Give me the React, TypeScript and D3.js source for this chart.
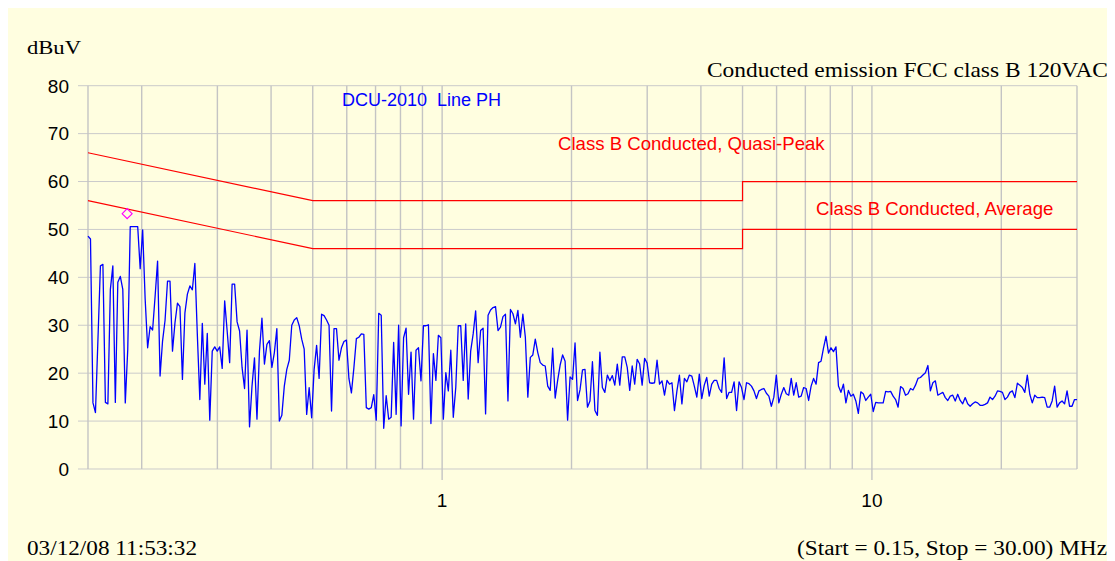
import React, { useEffect, useRef } from 'react';
import * as d3 from 'd3';

// sweep definition (MHz)
const startMHz = 0.15;
const stopMHz = 30;

const yTicks = [0, 10, 20, 30, 40, 50, 60, 70, 80];
const gridFreqs = [0.2, 0.3, 0.4, 0.5, 0.6, 0.7, 0.8, 0.9, 1, 2, 3, 4, 5, 6, 7, 8, 9, 10, 20];
const labeledFreqs = [1, 10];

// FCC class B limits
const limitFreq = [0.15, 0.5, 5, 5, 30];
const qpLimit = [66, 56, 56, 60, 60];
const avgLimit = [56, 46, 46, 50, 50];

// peak marker
const markerFreq = [0.185];
const markerLevel = [53.3];

// measured trace, dBuV, log-spaced sweep points
const emission = [
  48.6, 48.0, 13.8, 11.8, 27.0, 42.4, 42.7, 13.9, 13.6, 37.5,
  42.4, 13.9, 39.0, 40.2, 37.5, 13.8, 25.0, 50.6, 50.6, 50.6,
  50.6, 41.8, 49.9, 35.5, 25.3, 29.7, 29.0, 36.0, 43.4, 19.4,
  26.7, 31.0, 39.2, 39.2, 24.6, 30.5, 34.6, 33.9, 18.7, 32.6,
  36.5, 38.2, 37.4, 42.9, 28.0, 14.5, 30.4, 17.7, 28.3, 10.2,
  24.6, 25.5, 24.6, 25.5, 21.0, 35.1, 28.8, 22.2, 38.6, 38.6,
  30.7, 28.8, 21.2, 16.8, 29.0, 8.8, 17.3, 23.2, 10.4, 24.6,
  31.5, 21.9, 26.0, 26.8, 21.2, 24.3, 29.3, 10.0, 11.2, 17.3,
  20.8, 22.7, 30.0, 31.1, 31.6, 29.9, 27.1, 25.0, 11.4, 17.0,
  10.7, 20.8, 25.8, 18.9, 32.3, 32.0, 31.1, 30.0, 12.1,
  29.3, 29.3, 22.7, 25.3, 26.6, 26.9, 18.9, 15.9, 21.1, 27.2,
  27.5, 28.2, 28.1, 12.8, 12.5, 12.8, 15.5, 10.2, 32.5, 32.1,
  8.5, 15.3, 10.4, 10.8, 26.4, 11.4, 30.0, 9.0, 27.4, 29.4,
  15.6, 24.4, 10.4, 24.8, 25.3, 18.4, 29.9, 29.9, 30.1, 9.5,
  24.1, 18.5, 27.9, 27.4, 10.4, 20.1, 16.3, 24.8, 10.8, 17.0,
  29.9, 29.9, 18.5, 30.3, 14.6, 24.6, 28.2, 33.0, 22.2, 28.9,
  29.4, 11.5, 32.1, 33.2, 33.7, 33.9, 28.9, 29.6, 31.8, 32.3,
  14.2, 33.3, 32.4, 30.3, 33.1, 27.5, 32.3, 27.5, 15.0, 23.3,
  23.8, 27.1, 24.3, 22.2, 21.7, 21.5, 17.3, 16.4, 25.2, 14.8,
  18.5, 21.7, 23.8, 22.5, 10.2, 19.2, 18.7, 26.3, 14.3, 16.5,
  20.7, 20.8, 12.9, 14.2, 22.4, 12.2, 11.2, 24.4, 17.0, 16.0,
  19.6, 18.4, 19.5, 17.5, 21.9, 17.5, 23.4, 23.4, 21.2, 16.4,
  21.5, 17.7, 22.9, 21.9, 17.5, 23.1, 22.1, 18.0, 17.9, 18.0,
  22.7, 17.7, 18.4, 15.4, 18.5, 17.7, 18.0, 12.2, 16.3, 19.6,
  13.6, 18.9, 18.2, 19.6, 19.4, 17.3, 15.0, 19.8, 14.7, 17.5,
  19.1, 15.2, 17.7, 18.5, 18.5, 16.8, 16.0, 23.2, 14.7, 16.0,
  16.0, 18.2, 12.2, 18.2, 17.0, 14.5, 18.0, 17.8, 17.3, 16.3,
  14.7, 16.3, 16.6, 16.8, 15.8, 15.2, 13.1, 15.0, 19.6, 13.8,
  15.6, 17.0, 15.7, 15.4, 18.9, 15.4, 18.0, 15.0, 15.2, 17.0,
  16.8, 14.3, 17.3, 18.9, 17.7, 22.2, 22.5, 25.3, 27.7,
  24.2, 25.3, 24.5, 25.5, 17.3, 16.0, 17.7, 13.8, 16.4, 15.2,
  15.6, 14.2, 11.6, 16.1, 15.7, 14.3, 15.0, 15.6, 12.0, 13.9,
  13.8, 13.8, 13.8, 16.2, 16.1, 16.2, 15.2, 14.5, 12.9, 17.2,
  16.8, 15.4, 15.7, 16.8, 16.5, 17.5, 18.9, 19.1, 19.6, 20.1,
  21.6, 16.3, 18.0, 18.4, 15.4, 15.7, 16.0, 14.9, 14.3, 15.2,
  15.4, 14.2, 15.6, 14.3, 13.6, 14.9, 13.6, 13.1, 13.6, 14.0,
  13.8, 13.3, 13.3, 13.5, 13.8, 15.0, 14.5, 15.2, 16.3, 16.2,
  16.0, 14.5, 15.0, 16.0, 16.3, 14.9, 17.9, 17.5, 17.0, 16.0,
  19.6, 15.6, 13.8, 15.4, 14.9, 14.9, 15.0, 14.9, 12.9, 12.9,
  14.2, 17.3, 12.9, 13.8, 14.2, 13.6, 16.3, 13.1, 13.1, 14.5,
  14.5,
];

const SANS = '"Liberation Sans", Arial, sans-serif';
const SERIF = '"Liberation Serif", "Times New Roman", serif';

function EmissionChart() {
  const ref = useRef<SVGSVGElement>(null);

  useEffect(() => {
    document.documentElement.style.overflow = 'hidden';
    const svg = d3.select(ref.current);
    svg.selectAll('*').remove();

    // page coordinates; the svg sits at the 8px body margin
    const root = svg.append('g').attr('transform', 'translate(-8,-8)');
    const left = 88, right = 1077, top = 85.7, bottom = 469;

    const x = d3.scaleLog().domain([startMHz, stopMHz]).range([left, right]);
    const y = d3.scaleLinear().domain([0, 80]).range([bottom, top]);

    root.append('rect')
      .attr('x', 8).attr('y', 8).attr('width', 1107).attr('height', 553)
      .attr('fill', '#FFFEE0');

    // horizontal grid + ticks
    root.append('g').selectAll('line')
      .data(yTicks).enter().append('line')
      .attr('x1', left - 10).attr('x2', right)
      .attr('y1', d => y(d)).attr('y2', d => y(d))
      .attr('stroke', '#cbcbcb').attr('stroke-width', 1);

    // vertical grid
    root.append('g').selectAll('line')
      .data([startMHz, ...gridFreqs, stopMHz]).enter().append('line')
      .attr('x1', d => x(d)).attr('x2', d => x(d))
      .attr('y1', top)
      .attr('y2', d => (labeledFreqs.includes(d) ? bottom + 11 : bottom))
      .attr('stroke', '#c4c4c4').attr('stroke-width', 1.4);

    // y tick labels
    root.append('g').selectAll('text')
      .data(yTicks).enter().append('text')
      .attr('x', 69).attr('y', d => y(d)).attr('dy', '0.36em')
      .attr('text-anchor', 'end')
      .attr('font-family', SANS).attr('font-size', 19)
      .text(d => d);

    // x tick labels
    root.append('g').selectAll('text')
      .data(labeledFreqs).enter().append('text')
      .attr('x', d => x(d)).attr('y', 507)
      .attr('text-anchor', 'middle')
      .attr('font-family', SANS).attr('font-size', 19)
      .text(d => d);

    // limits
    const limitLine = d3.line<number>()
      .x((_, i) => x(limitFreq[i]))
      .y(d => y(d));
    [qpLimit, avgLimit].forEach(lim => {
      root.append('path')
        .attr('d', limitLine(lim))
        .attr('fill', 'none')
        .attr('stroke', '#FF0000')
        .attr('stroke-width', 1.2);
    });

    // trace
    const n = emission.length;
    const freqAt = (i: number) => startMHz * Math.pow(stopMHz / startMHz, i / (n - 1));
    const trace = d3.line<number>()
      .x((_, i) => x(freqAt(i)))
      .y(d => y(d));
    root.append('path')
      .attr('d', trace(emission))
      .attr('fill', 'none')
      .attr('stroke', '#0000FF')
      .attr('stroke-width', 1.3)
      .attr('stroke-linejoin', 'round');

    // peak marker
    root.selectAll('.marker')
      .data(markerFreq).enter().append('path')
      .attr('class', 'marker')
      .attr('d', d3.symbol(d3.symbolSquare, 50)())
      .attr('transform', (d, i) => `translate(${x(d)},${y(markerLevel[i])}) rotate(45)`)
      .attr('fill', 'none')
      .attr('stroke', '#FF00FF')
      .attr('stroke-width', 1.1);

    // labels
    root.append('text')
      .attr('x', 342).attr('y', 106)
      .attr('font-family', SANS).attr('font-size', 18)
      .attr('fill', '#0000FF')
      .style('white-space', 'pre')
      .text('DCU-2010  Line PH');

    root.append('text')
      .attr('x', 558).attr('y', 150)
      .attr('font-family', SANS).attr('font-size', 18.6)
      .attr('fill', '#FF0000')
      .text('Class B Conducted, Quasi-Peak');

    root.append('text')
      .attr('x', 816).attr('y', 215)
      .attr('font-family', SANS).attr('font-size', 18.6)
      .attr('fill', '#FF0000')
      .text('Class B Conducted, Average');

    const serifText = (tx: number, ty: number, size: number, width: number, s: string) =>
      root.append('text')
        .attr('x', tx).attr('y', ty)
        .attr('font-family', SERIF).attr('font-size', size)
        .attr('textLength', width).attr('lengthAdjust', 'spacingAndGlyphs')
        .text(s);

    serifText(27, 54, 19, 54, 'dBuV');
    serifText(707, 77, 21, 401, 'Conducted emission FCC class B 120VAC');
    serifText(27, 555, 20, 170, '03/12/08 11:53:32');
    serifText(797, 555, 20, 310, '(Start = 0.15, Stop = 30.00) MHz');
  }, []);

  return <svg ref={ref} width={1107} height={553} style={{ display: 'block' }} />;
}

export default function App() {
  return <EmissionChart />;
}
